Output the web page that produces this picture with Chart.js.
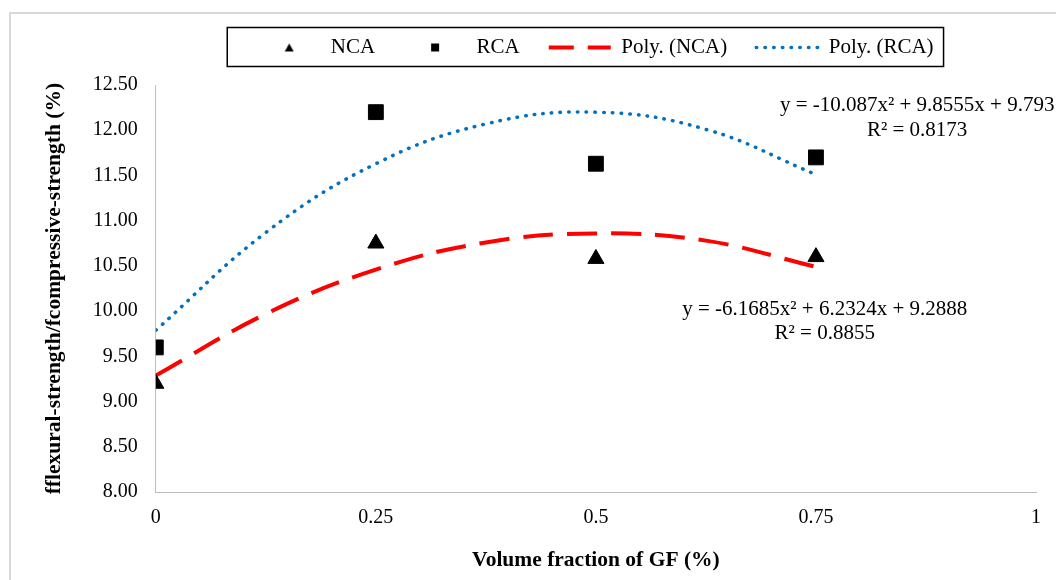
<!DOCTYPE html>
<html>
<head>
<meta charset="utf-8">
<title>Volume fraction of GF</title>
<script src="https://cdn.jsdelivr.net/npm/chart.js@4.4.1/dist/chart.umd.min.js"></script>
<style>
	body { margin: 0; background: #fff; overflow: hidden; }
	#frame { position: absolute; left: 9px; top: 12px; width: 1100px; height: 700px; border: 2px solid #d9d9d9; }
	#mycanvas { position: absolute; left: 0; top: 0; }
</style>
</head>
<body>
<div id="frame"></div>
<canvas id="mycanvas" width="1056" height="580"></canvas>
<script>
// measured points
var gfFraction = [0, 0.25, 0.5, 0.75];
var ncaValues = [9.2, 10.75, 10.58, 10.6];
var rcaValues = [9.6, 12.2, 11.63, 11.7];

// trendlines
var trendX = [0, 0.125, 0.25, 0.375, 0.5, 0.625, 0.75];
var ncaTrend = [9.29, 9.97, 10.46, 10.76, 10.86, 10.78, 10.49];
var rcaTrend = [9.79, 10.87, 11.63, 12.07, 12.2, 12.01, 11.51];

var ncaEquation = ['y = -6.1685x² + 6.2324x + 9.2888', 'R² = 0.8855'];
var rcaEquation = ['y = -10.087x² + 9.8555x + 9.793', 'R² = 0.8173'];

var serif = '"Liberation Serif", "Times New Roman", serif';
Chart.defaults.color = '#000';
Chart.defaults.font.family = serif;

function toPoints(xs, ys) {
	return xs.map(function(x, i) { return {x: x, y: ys[i]}; });
}

function markerImage(kind) {
	var c = document.createElement('canvas');
	c.width = 10;
	c.height = 10;
	var g = c.getContext('2d');
	g.fillStyle = '#000';
	if (kind === 'triangle') {
		g.beginPath();
		g.moveTo(5, 1);
		g.lineTo(9.5, 9);
		g.lineTo(0.5, 9);
		g.closePath();
		g.fill();
	} else {
		g.fillRect(1, 1, 8, 8);
	}
	return c;
}

// equation labels, placed in data units
var equationLabels = {
	id: 'equationLabels',
	afterDatasetsDraw: function(chart) {
		var ctx = chart.ctx;
		var xs = chart.scales.x, ys = chart.scales.y;
		var labels = [
			{lines: rcaEquation, x: 0.865, y: 12.27},
			{lines: ncaEquation, x: 0.76, y: 10.02}
		];
		ctx.save();
		ctx.font = '21px ' + serif;
		ctx.fillStyle = '#000';
		ctx.textAlign = 'center';
		ctx.textBaseline = 'middle';
		labels.forEach(function(l) {
			var px = xs.getPixelForValue(l.x);
			var py = ys.getPixelForValue(l.y);
			l.lines.forEach(function(t, i) {
				ctx.fillText(t, px, py + i * 24.5);
			});
		});
		ctx.restore();
	}
};

// black frame round the legend
var legendFrame = {
	id: 'legendFrame',
	afterDraw: function(chart) {
		var hb = chart.legend.legendHitBoxes;
		if (!hb || !hb.length) return;
		var first = hb[0], last = hb[hb.length - 1];
		var ctx = chart.ctx;
		ctx.save();
		ctx.strokeStyle = '#000';
		ctx.lineWidth = 1.5;
		var left = first.left - 31;
		var right = last.left + last.width + 10;
		var top = first.top - 9.5;
		ctx.strokeRect(left, top, right - left, 39);
		ctx.restore();
	}
};

var chartdata = {
	datasets: [
		{
			label: 'NCA',
			data: toPoints(gfFraction, ncaValues),
			pointStyle: 'triangle',
			pointRadius: 9.3,
			pointHoverRadius: 9.3,
			backgroundColor: '#000',
			borderColor: '#000',
			borderWidth: 1,
			legendMarker: markerImage('triangle')
		},
		{
			label: 'RCA',
			data: toPoints(gfFraction, rcaValues),
			pointStyle: 'rect',
			pointRadius: 10.5,
			pointHoverRadius: 10.5,
			backgroundColor: '#000',
			borderColor: '#000',
			borderWidth: 1,
			legendMarker: markerImage('rect')
		},
		{
			label: 'Poly. (NCA)',
			data: toPoints(trendX, ncaTrend),
			showLine: true,
			pointRadius: 0,
			borderColor: '#ff0000',
			backgroundColor: '#ff0000',
			borderWidth: 4,
			borderDash: [30, 14],
			borderCapStyle: 'butt',
			tension: 0.4,
			dashOffset: 5
		},
		{
			label: 'Poly. (RCA)',
			data: toPoints(trendX, rcaTrend),
			showLine: true,
			pointRadius: 0,
			borderColor: '#0070c0',
			backgroundColor: '#0070c0',
			borderWidth: 3.5,
			borderDash: [0.5, 8.2],
			borderCapStyle: 'round',
			tension: 0.4,
			dashOffset: 0
		}
	]
};

var ctx = document.getElementById('mycanvas');

var scatterChart = new Chart(ctx, {
	type: 'scatter',
	data: chartdata,
	plugins: [equationLabels, legendFrame],
	options: {
		responsive: false,
		animation: false,
		events: [],
		layout: {
			padding: {top: 8, left: 20, right: 20, bottom: 3}
		},
		plugins: {
			tooltip: {enabled: false},
			legend: {
				position: 'top',
				fullSize: false,
				labels: {
					usePointStyle: true,
					pointStyleWidth: 62,
					padding: 29,
					color: '#000',
					font: {family: serif, size: 21},
					generateLabels: function(chart) {
						var items = Chart.defaults.plugins.legend.labels.generateLabels(chart);
						items.forEach(function(item) {
							var ds = chart.data.datasets[item.datasetIndex];
							if (ds.legendMarker) {
								item.pointStyle = ds.legendMarker;
							} else {
								item.pointStyle = 'line';
								item.strokeStyle = ds.borderColor;
								item.lineWidth = ds.borderWidth;
								item.lineDash = ds.borderDash;
								item.lineDashOffset = ds.dashOffset;
								item.lineCap = ds.borderCapStyle;
							}
						});
						return items;
					}
				}
			},
			// spacer between legend and plot
			title: {
				display: true,
				text: '',
				weight: 500,
				padding: {top: 2, bottom: 3},
				font: {size: 10}
			}
		},
		scales: {
			x: {
				type: 'linear',
				min: 0,
				max: 1,
				grid: {display: false, drawTicks: false},
				border: {display: true, color: '#bfbfbf', width: 1},
				ticks: {
					stepSize: 0.25,
					padding: 14,
					color: '#000',
					font: {family: serif, size: 20},
					callback: function(value) { return String(value); }
				},
				title: {
					display: true,
					text: 'Volume fraction of GF (%)',
					color: '#000',
					padding: {top: 3, bottom: 4},
					font: {family: serif, size: 21.5, weight: 'bold'}
				}
			},
			y: {
				min: 8,
				max: 12.5,
				grid: {display: false, drawTicks: false},
				border: {display: true, color: '#bfbfbf', width: 1},
				ticks: {
					stepSize: 0.5,
					padding: 18,
					color: '#000',
					font: {family: serif, size: 20},
					callback: function(value) { return value.toFixed(2); }
				},
				title: {
					display: true,
					text: 'fflexural-strength/fcompressive-strength (%)',
					color: '#000',
					padding: {top: 22, bottom: 7},
					font: {family: serif, size: 21.5, weight: 'bold'}
				}
			}
		}
	}
});
</script>
</body>
</html>
